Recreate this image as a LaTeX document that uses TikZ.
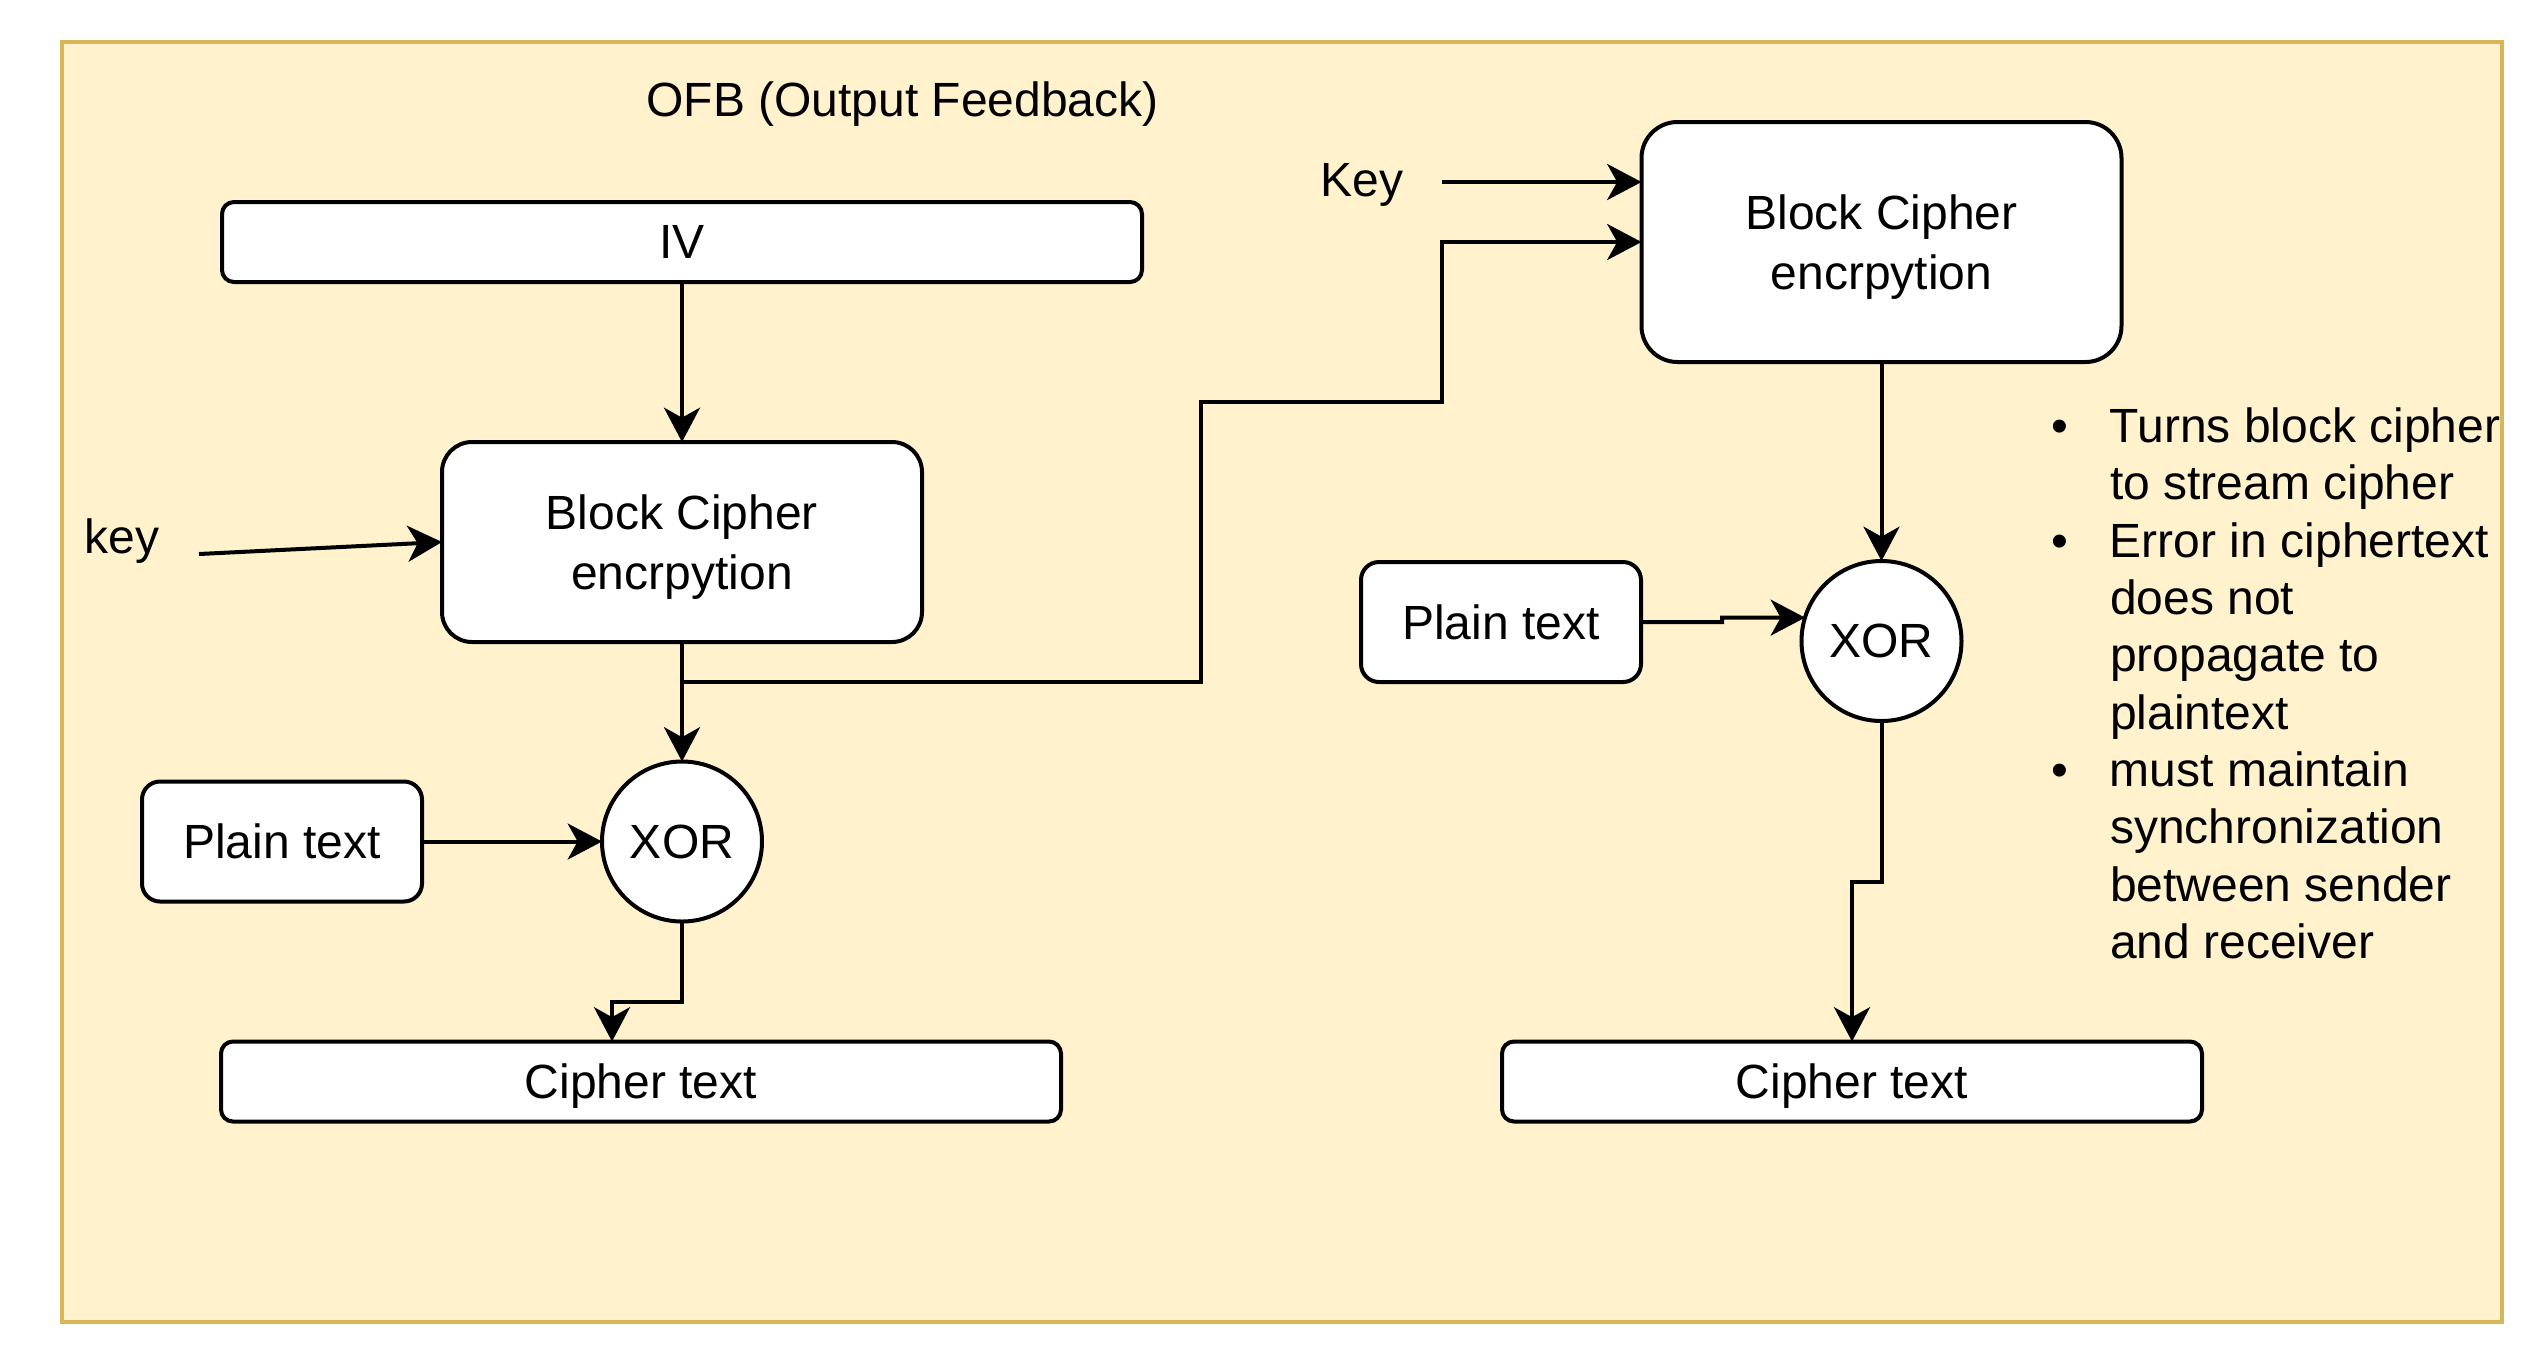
\documentclass[tikz,border=0pt]{standalone}
\usepackage{fontspec}
\setmainfont{Liberation Sans}
\usetikzlibrary{arrows.meta}
\definecolor{bgfill}{HTML}{FFF2CC}
\definecolor{bgline}{HTML}{D6B656}
\newcommand\myblt{\makebox[30pt]{\raisebox{0pt}{•}}}
\newcommand\mynob{\makebox[30pt]{}}
\tikzset{
  every node/.style={font=\fontsize{14.4pt}{17.28pt}\selectfont, inner sep=0pt, outer sep=0pt},
  bgbox/.style={draw=bgline, fill=bgfill, line width=1.1pt},
  box/.style={draw=black, fill=white, line width=1.2pt, align=center},
  twoline/.style={font=\fontsize{14.4pt}{17.76pt}\selectfont, text depth=0pt},
  xorc/.style={draw=black, fill=white, line width=1.2pt, circle, minimum size=48pt},
  conn/.style={draw=black, line width=1.2pt, -{Stealth[length=10.3pt, width=10.8pt, inset=3pt]}},
  plainlabel/.style={anchor=base}
}
\begin{document}
\begin{tikzpicture}[x=0.3pt,y=-0.3pt]
\useasboundingbox (0,0) rectangle (2544,1364);
\node[bgbox, minimum width=732pt, minimum height=384pt] (bg) at (1282,682) {};
\node[plainlabel] (title) at (902.5,116) {OFB (Output Feedback)};

% left chain
\node[box, rounded corners=3.6pt, minimum width=276pt, minimum height=24pt] (iv) at (682,242) {IV};
\node[box, twoline, rounded corners=9pt, minimum width=144pt, minimum height=60pt] (bc1) at (682,542) {Block Cipher\\encrpytion};
\node[xorc] (x1) at (682,841.5) {XOR};
\node[box, rounded corners=5.4pt, minimum width=84pt, minimum height=36pt] (p1) at (282,841.5) {Plain text};
\node[box, text depth=0pt, rounded corners=3.6pt, minimum width=252pt, minimum height=24pt] (c1) at (641,1081.5) {Cipher text};
\node[plainlabel] (k1) at (122,553) {key};

% right chain
\node[box, twoline, rounded corners=10.8pt, minimum width=144pt, minimum height=72pt] (bc2) at (1881.5,242) {Block Cipher\\encrpytion};
\node[xorc] (x2) at (1881.5,641) {XOR};
\node[box, rounded corners=5.4pt, minimum width=84pt, minimum height=36pt] (p2) at (1501,622) {Plain text};
\node[box, text depth=0pt, rounded corners=3.6pt, minimum width=210pt, minimum height=24pt] (c2) at (1852,1081.5) {Cipher text};
\node[plainlabel] (k2) at (1362,196.7) {Key};

% notes
\node[anchor=base west, align=left] (notes) at (2010,442.5) {\fontsize{14.4pt}{17.2pt}\selectfont
\begin{tabular}[t]{@{}l@{}l@{}}
\myblt & Turns block cipher\\
\mynob & to stream cipher\\
\myblt & Error in ciphertext\\
\mynob & does not\\
\mynob & propagate to\\
\mynob & plaintext\\
\myblt & must maintain\\
\mynob & synchronization\\
\mynob & between sender\\
\mynob & and receiver
\end{tabular}};

% coordinates
\coordinate (k1s) at (199,554);
\coordinate (k2s) at (1442,182);
\coordinate (fb) at (682,682);
\coordinate (fb1) at (1201,402);
\coordinate (fb2) at (1442,242);
\coordinate (j1) at (682,1002);
\coordinate (j2) at (612,1002);
\coordinate (q1) at (1722,622);
\coordinate (q2) at (1722,617.6);
\coordinate (r1) at (1881.5,882);
\coordinate (r2) at (1852,882);

% connectors
\draw[conn] (iv.south) -- (bc1.north);
\draw[conn] (bc1.south) -- (x1.north);
\draw[conn] (k1s) -- (bc1.west);
\draw[conn] (p1.east) -- (x1.west);
\draw[conn] (x1.south) -- (j1) -- (j2) -- (j2 |- c1.north);
\draw[conn] (fb) -| (fb1) -| (fb2) -- (bc2.west);
\draw[conn] (k2s) -- (bc2.west |- k2s);
\draw[conn] (bc2.south) -- (x2.north);
\draw[conn] (p2.east) -- (q1) -- (q2) -- (x2.163);
\draw[conn] (x2.south) -- (r1) -- (r2) -- (r2 |- c2.north);
\end{tikzpicture}
\end{document}
